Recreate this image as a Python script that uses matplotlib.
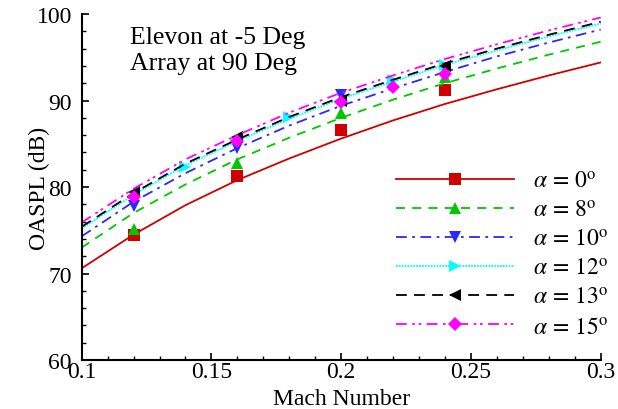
import matplotlib
matplotlib.use("Agg")
import matplotlib.pyplot as plt
from matplotlib.ticker import MultipleLocator

plt.rcParams['font.family'] = ['Liberation Serif', 'DejaVu Serif']
plt.rcParams['mathtext.fontset'] = 'stix'

# fitted curves
mach_fit = [0.10, 0.12, 0.14, 0.16, 0.18, 0.20, 0.22, 0.24, 0.26, 0.28, 0.30]
fit_a0 = [70.6, 74.5, 77.9, 80.8, 83.3, 85.6, 87.7, 89.6, 91.3, 92.9, 94.4]
fit_a8 = [73.0, 77.0, 80.3, 83.2, 85.7, 88.0, 90.1, 92.0, 93.7, 95.3, 96.8]
fit_a10 = [74.3, 78.3, 81.6, 84.5, 87.1, 89.4, 91.4, 93.3, 95.1, 96.7, 98.2]
fit_a12 = [75.2, 79.1, 82.5, 85.3, 87.9, 90.2, 92.2, 94.1, 95.8, 97.4, 98.9]
fit_a13 = [75.4, 79.3, 82.7, 85.5, 88.1, 90.4, 92.4, 94.3, 96.0, 97.6, 99.1]
fit_a15 = [75.9, 79.8, 83.2, 86.0, 88.6, 90.9, 92.9, 94.8, 96.5, 98.1, 99.6]

# measured points
m_a0 = [0.12, 0.16, 0.20, 0.24]
p_a0 = [74.4, 81.3, 86.6, 91.2]
m_a8 = [0.12, 0.16, 0.20, 0.24]
p_a8 = [75.1, 82.8, 88.5, 92.7]
m_a10 = [0.12, 0.16, 0.20, 0.24]
p_a10 = [77.8, 84.5, 90.6, 93.6]
m_a12 = [0.14, 0.18, 0.22, 0.24]
p_a12 = [82.3, 88.1, 92.4, 94.1]
m_a13 = [0.12, 0.16, 0.20, 0.24]
p_a13 = [79.4, 85.8, 90.0, 94.0]
m_a15 = [0.12, 0.16, 0.20, 0.22, 0.24]
p_a15 = [78.9, 85.3, 89.8, 91.6, 93.1]

labels = [r'$\alpha\,=\,0^{\rm o}$', r'$\alpha\,=\,8^{\rm o}$', r'$\alpha\,=\,10^{\rm o}$',
          r'$\alpha\,=\,12^{\rm o}$', r'$\alpha\,=\,13^{\rm o}$', r'$\alpha\,=\,15^{\rm o}$']

series = [
    (fit_a0, m_a0, p_a0, '#d00000', '-', 's'),
    (fit_a8, m_a8, p_a8, '#00c800', (0, (5, 4)), '^'),
    (fit_a10, m_a10, p_a10, '#2828ff', (0, (6, 3, 1.5, 3)), 'v'),
    (fit_a12, m_a12, p_a12, '#00ffff', (0, (1, 0.6)), '>'),
    (fit_a13, m_a13, p_a13, '#000000', (0, (6, 4)), '<'),
    (fit_a15, m_a15, p_a15, '#ff00ff', (0, (6, 3, 1.5, 2, 1.5, 3)), 'D'),
]

fig = plt.figure(figsize=(6.18, 4.10), dpi=100)
ax = fig.add_axes([0.1322, 0.1195, 0.8398, 0.8439])

handles = []
for (fit, mx, py, col, ls, mk), lab in zip(series, labels):
    ax.plot(mach_fit, fit, color=col, linestyle=ls, linewidth=1.3)
    ms = 7 if mk == 'D' else 9
    ax.plot(mx, py, linestyle='none', marker=mk, color=col, markersize=ms,
            markeredgewidth=0)
    h, = ax.plot([], [], color=col, linestyle=ls, linewidth=1.3, marker=mk,
                 markersize=ms, markeredgewidth=0)
    handles.append(h)

ax.legend(handles, labels, loc='upper left', bbox_to_anchor=(0.605, 0.547),
          frameon=False, fontsize=17, handlelength=5.0, handletextpad=0.8,
          labelspacing=0.32, borderpad=0, borderaxespad=0, markerscale=1.0)

ax.text(0.093, 0.965, 'Elevon at -5 Deg\nArray at 90 Deg', transform=ax.transAxes,
        ha='left', va='top', fontsize=18.5, linespacing=1.25)

ax.set_xlim(0.1, 0.3)
ax.set_ylim(60, 100)
ax.xaxis.set_major_locator(MultipleLocator(0.05))
ax.xaxis.set_minor_locator(MultipleLocator(0.01))
ax.yaxis.set_major_locator(MultipleLocator(10))
ax.yaxis.set_minor_locator(MultipleLocator(2))
ax.set_xticks([0.1, 0.15, 0.2, 0.25, 0.3])
ax.set_xticklabels(['0.1', '0.15', '0.2', '0.25', '0.3'])

ax.spines['top'].set_visible(False)
ax.spines['right'].set_visible(False)
ax.spines['left'].set_linewidth(1.5)
ax.spines['bottom'].set_linewidth(1.5)
ax.tick_params(which='major', direction='in', length=5, width=1.2, labelsize=17)
ax.tick_params(which='minor', direction='in', length=3, width=1.0)
ax.tick_params(axis='x', pad=1)
ax.tick_params(axis='y', pad=7)

ax.set_xlabel('Mach Number', fontsize=17, labelpad=4)
ax.set_ylabel('OASPL (dB)', fontsize=17, labelpad=-10)

fig.savefig('out.png', dpi=100)
